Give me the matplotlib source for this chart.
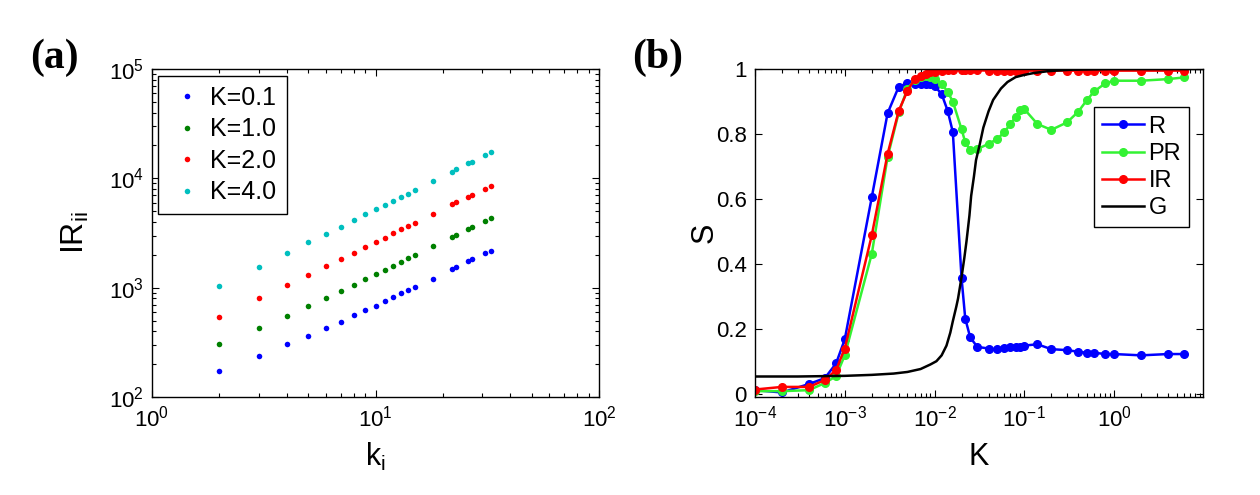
import matplotlib
matplotlib.use('Agg')
import matplotlib.pyplot as plt
import numpy as np

plt.rcParams['font.family'] = ['Liberation Sans', 'DejaVu Sans']
plt.rcParams['mathtext.fontset'] = 'custom'
plt.rcParams['mathtext.rm'] = 'Liberation Sans'
plt.rcParams['mathtext.it'] = 'Liberation Sans:italic'
plt.rcParams['mathtext.bf'] = 'Liberation Sans:bold'

# ---------------- panel (a) data ----------------
k_deg = [2, 3, 4, 5, 6, 7, 8, 9, 10, 11, 12, 13, 14, 15, 18, 22, 23, 26, 27, 31, 33]
ir_k01 = [173, 237, 303, 364, 430, 489, 559, 629, 684, 751, 817, 889, 953, 1023,
          1203, 1484, 1547, 1755, 1831, 2090, 2182]
ir_k10 = [303, 428, 555, 681, 811, 940, 1067, 1203, 1325, 1451, 1580, 1720, 1858, 2005,
          2409, 2893, 3035, 3422, 3570, 4103, 4366]
ir_k20 = [543, 800, 1059, 1306, 1580, 1820, 2090, 2343, 2603, 2872, 3150, 3422, 3672, 3911,
          4693, 5793, 6080, 6796, 6998, 7995, 8505]
ir_k40 = [1043, 1557, 2090, 2603, 3100, 3614, 4190, 4722, 5212, 5750, 6253, 6764, 7248, 7834,
          9413, 11450, 12110, 13740, 14220, 16250, 17400]
labels_a = ['K=0.1', 'K=1.0', 'K=2.0', 'K=4.0']
colors_a = [(0, 0, 1), (0, 0.5, 0), (1, 0, 0), (0, 0.75, 0.75)]

# ---------------- panel (b) data ----------------
K = [1e-4, 2e-4, 4e-4, 6e-4, 8e-4, 1e-3, 2e-3, 3e-3, 4e-3, 5e-3, 6e-3, 7e-3, 8e-3, 9e-3,
     0.01, 0.012, 0.014, 0.016, 0.02, 0.022, 0.025, 0.03, 0.04, 0.05, 0.06, 0.07, 0.08,
     0.09, 0.1, 0.14, 0.2, 0.3, 0.4, 0.5, 0.6, 0.8, 1.0, 2.0, 4.0, 6.0]
R = [0.013, 0.006, 0.032, 0.05, 0.095, 0.169, 0.606, 0.864, 0.946, 0.956, 0.955, 0.955,
     0.955, 0.953, 0.948, 0.923, 0.872, 0.806, 0.358, 0.233, 0.175, 0.146, 0.141, 0.138,
     0.143, 0.145, 0.147, 0.147, 0.15, 0.154, 0.139, 0.136, 0.131, 0.128, 0.128, 0.124,
     0.124, 0.12, 0.124, 0.124]
PR = [0.01, 0.01, 0.013, 0.035, 0.056, 0.12, 0.432, 0.729, 0.867, 0.94, 0.965, 0.975,
      0.978, 0.975, 0.97, 0.955, 0.93, 0.9, 0.815, 0.775, 0.75, 0.754, 0.77, 0.785,
      0.806, 0.831, 0.852, 0.874, 0.877, 0.831, 0.813, 0.836, 0.869, 0.905, 0.931,
      0.956, 0.964, 0.964, 0.969, 0.974]
IR = [0.015, 0.023, 0.023, 0.044, 0.075, 0.141, 0.489, 0.739, 0.872, 0.933, 0.969, 0.979,
      0.985, 0.99, 0.992, 0.995, 0.997, 0.997, 0.997, 0.997, 0.996, 0.996, 0.995, 0.995,
      0.995, 0.995, 0.995, 0.995, 0.995, 0.995, 0.995, 0.995, 0.995, 0.995, 0.995,
      0.995, 0.995, 0.995, 0.995, 0.995]
K_G = [1e-4, 3e-4, 1e-3, 2e-3, 3.5e-3, 5e-3, 7e-3, 9e-3, 0.0105, 0.012, 0.0136, 0.015,
       0.016, 0.0175, 0.0183, 0.02, 0.0215, 0.0227, 0.0245, 0.0256, 0.0275, 0.029, 0.032,
       0.035, 0.04, 0.045, 0.055, 0.065, 0.08, 0.1, 0.13, 0.18, 0.25, 0.35, 0.6, 1.0, 3.0, 9.8]
G = [0.055, 0.055, 0.057, 0.06, 0.064, 0.069, 0.078, 0.092, 0.102, 0.12, 0.15, 0.19,
     0.225, 0.27, 0.295, 0.36, 0.42, 0.47, 0.55, 0.61, 0.67, 0.72, 0.77, 0.82, 0.87,
     0.905, 0.94, 0.96, 0.975, 0.982, 0.988, 0.993, 0.996, 0.998, 0.999, 1.0, 1.0, 1.0]
S_ticks = [0, 0.2, 0.4, 0.6, 0.8, 1.0]
S_ticklabels = ['0', '0.2', '0.4', '0.6', '0.8', '1']

fig = plt.figure(figsize=(12.6, 4.95), dpi=100)

#################### (a) ####################
ax1 = fig.add_axes([152/1260, 98/495, 447/1260, 328/495])
for vals, col, lab in zip([ir_k01, ir_k10, ir_k20, ir_k40], colors_a, labels_a):
    ax1.plot(k_deg, vals, 'o', color=col, ms=4.0, mew=0, label=lab)
ax1.set_xscale('log')
ax1.set_yscale('log')
ax1.set_xlim(1, 100)
ax1.set_ylim(100, 1e5)
ax1.set_xlabel(r'k$_{\mathrm{i}}$', fontsize=22, labelpad=7)
ax1.set_ylabel(r'IR$_{\mathrm{ii}}$', fontsize=23, labelpad=13)
ax1.legend(loc='upper left', bbox_to_anchor=(0.0134, 0.979), borderaxespad=0,
           fontsize=18, frameon=True, fancybox=False, edgecolor='k', framealpha=1,
           handlelength=1.55, handletextpad=0.15, borderpad=0.4, labelspacing=0.3)

#################### (b) ####################
ax2 = fig.add_axes([755/1260, 98/495, 448/1260, 328/495])
ax2.plot(K, R, '-o', color=(0, 0, 1), lw=1.8, ms=5.5, label='R')
ax2.plot(K, PR, '-o', color=(0.2, 0.95, 0.2), lw=1.8, ms=5.5, label='PR')
ax2.plot(K, IR, '-o', color=(1, 0, 0), lw=1.8, ms=5.5, label='IR')
ax2.plot(K_G, G, '-', color='k', lw=1.8, label='G')
ax2.set_xscale('log')
ax2.set_xlim(1e-4, 9.8)
ax2.set_ylim(-0.008, 1.0)
ax2.set_yticks(S_ticks)
ax2.set_yticklabels(S_ticklabels)
ax2.set_xlabel('K', fontsize=22, labelpad=8)
ax2.set_ylabel('S', fontsize=22, labelpad=-3)
ax2.legend(loc='upper right', bbox_to_anchor=(0.9694, 0.883), borderaxespad=0,
           fontsize=17, frameon=True, fancybox=False, edgecolor='k', framealpha=1,
           handletextpad=0.2, borderpad=0.35, labelspacing=0.22, handlelength=1.75)

for ax in (ax1, ax2):
    ax.tick_params(which='both', direction='in', top=True, right=True, labelsize=16,
                   width=0.8, pad=6)
    ax.tick_params(which='major', length=5)
    ax.tick_params(which='minor', length=3)
    for sp in ax.spines.values():
        sp.set_linewidth(1.0)

fig.text(30/1260, 1 - 58/495, '(a)', fontsize=30, fontweight='bold',
         family='Liberation Serif', va='center', ha='left')
fig.text(632/1260, 1 - 58/495, '(b)', fontsize=30, fontweight='bold',
         family='Liberation Serif', va='center', ha='left')

fig.savefig('out.png', dpi=100)
